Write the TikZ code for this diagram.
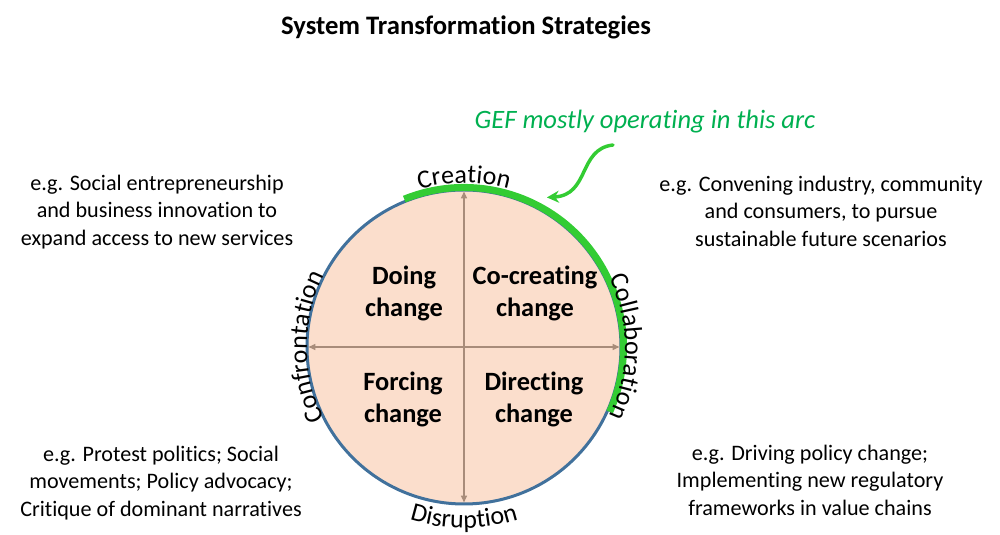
\documentclass[tikz,border=0pt]{standalone}
\usepackage{fontspec}
\setmainfont[Ligatures=NoCommon]{Carlito}
\usetikzlibrary{arrows.meta,decorations.text}
\definecolor{peach}{RGB}{251,222,204}
\definecolor{rimblue}{RGB}{65,113,156}
\definecolor{arcgreen}{RGB}{51,204,51}
\definecolor{gefgreen}{RGB}{0,176,80}
\definecolor{axisbrown}{RGB}{168,140,122}

\begin{document}
\begin{tikzpicture}[line cap=round,line join=round,x=0.75pt,y=0.75pt,
    quad/.style={font=\fontsize{19.8}{24}\selectfont\bfseries, align=center},
    note/.style={font=\fontsize{16.6}{20.6}\selectfont, align=center},
    axis/.style={color=axisbrown, line width=0.9pt, shorten <=1.2pt, shorten >=1.2pt,
      {Triangle[length=5pt,width=4.5pt]}-{Triangle[length=5pt,width=4.5pt]}},
    rimlabel/.style={decorate, decoration={text along path, text align=center,
      text={|\fontsize{19.5}{23}\selectfont|#1}}}]
    \useasboundingbox (0,0) rectangle (1000,535);
    \node[font=\fontsize{20}{24}\selectfont\bfseries] (title) at (466,508) {System Transformation Strategies};
    \node[circle, draw=rimblue, line width=2.25pt, fill=peach, minimum size=235.5pt, inner sep=0pt, outer sep=0pt] (wheel) at (464,188) {};
    % cross inside the circle
    \draw[axis] (wheel.west) -- (wheel.east);
    \draw[axis] (wheel.south) -- (wheel.north);
    % quadrants
    \node[quad] (doing) at (404,242) {Doing\\change};
    \node[quad] (cocreating) at (535,242) {Co-creating\\change};
    \node[quad] (forcing) at (403,136) {Forcing\\change};
    \node[quad] (directing) at (534,136) {Directing\\change};
    % the arc GEF works in
    \draw[arcgreen, line width=5.25pt, line cap=butt] ([shift={(112:159.5)}]wheel.center) arc[start angle=112, end angle=-24, radius=159.5];
    % labels round the rim
    \path[rimlabel=Creation] ([shift={(150:164)}]wheel.center) arc[start angle=150, end angle=30, radius=164];
    \path[rimlabel=Collaboration] ([shift={(60:161)}]wheel.center) arc[start angle=60, end angle=-60, radius=161];
    \path[rimlabel=Disruption] ([shift={(220:181)}]wheel.center) arc[start angle=220, end angle=320, radius=181];
    \path[rimlabel=Confrontation] ([shift={(240:157)}]wheel.center) arc[start angle=240, end angle=120, radius=157];
    % GEF note and its arrow
    \node[font=\fontsize{19.9}{24}\selectfont\itshape, text=gefgreen] (gef) at (645,413) {GEF mostly operating in this arc};
    \coordinate (gefstart) at (613,390);
    \coordinate (arcpoint) at ([shift={(61:171)}]wheel.center);
    \draw[arcgreen, line width=2.6pt, -{Stealth[length=9pt,width=9pt]}] (gefstart) .. controls (578,386) and (590,340) .. (arcpoint);
    % examples
    \node[note] (makers) at (157,323) {e.g. Social entrepreneurship\\and business innovation to\\expand access to new services};
    \node[note] (conveners) at (821,324) {e.g. Convening industry, community\\and consumers, to pursue\\sustainable future scenarios};
    \node[note] (protest) at (161,52) {e.g. Protest politics; Social\\movements; Policy advocacy;\\Critique of dominant narratives};
    \node[note] (policy) at (810,55) {e.g. Driving policy change;\\Implementing new regulatory\\frameworks in value chains};
\end{tikzpicture}
\end{document}
